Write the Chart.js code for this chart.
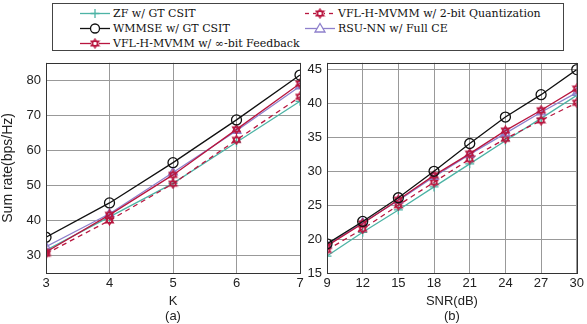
<!DOCTYPE html>
<html>
<head>
<meta charset="utf-8">
<script src="https://cdn.jsdelivr.net/npm/chart.js@4"></script>
<style>
  body { margin: 0; background: #fff; width: 587px; height: 324px; position: relative; overflow: hidden; }
  canvas { position: absolute; }
  #legend { position: absolute; left: 52px; top: 3px; width: 512px; height: 48px; border: 1px solid #444; box-sizing: border-box;
    font-family: "DejaVu Serif", "Liberation Serif", serif; font-size: 11px; color: #111; }
  .item { position: absolute; height: 15px; line-height: 15px; white-space: nowrap; }
  .item canvas { position: absolute; left: 0; top: 0; }
  .item span { position: absolute; left: 33px; top: 0; }
</style>
</head>
<body>
<div id="legend"></div>
<canvas id="chartA" width="308" height="274" style="left:0;top:50px;width:308px;height:274px"></canvas>
<canvas id="chartB" width="287" height="274" style="left:300px;top:50px;width:287px;height:274px"></canvas>
<script>
// Data (a): sum rate vs number of users K
const kValues = [3, 4, 5, 6, 7];
const zfA    = [31.5, 41.0, 50.6, 62.3, 74.0];
const wmmseA = [35.2, 45.0, 56.5, 68.7, 81.5];
const vflInfA = [31.0, 41.6, 53.0, 66.0, 79.1];
const vfl2bitA = [30.5, 40.0, 50.5, 63.0, 75.3];
const rsuA   = [32.5, 41.9, 53.7, 65.6, 78.3];

// Data (b): sum rate vs SNR
const snrValues = [9, 12, 15, 18, 21, 24, 27, 30];
const zfB    = [17.5, 21.0, 24.3, 27.7, 31.1, 34.5, 37.8, 41.2];
const wmmseB = [19.3, 22.6, 26.1, 30.0, 34.1, 38.0, 41.3, 45.0];
const vflInfB = [19.0, 22.3, 25.8, 29.4, 32.6, 36.0, 39.0, 42.2];
const vfl2bitB = [18.4, 21.5, 25.0, 28.4, 31.8, 34.8, 37.5, 40.1];
const rsuB   = [19.1, 22.4, 25.7, 29.2, 32.5, 35.6, 38.7, 41.6];

const yTicksA = [30, 40, 50, 60, 70, 80];
const yTicksB = [15, 20, 25, 30, 35, 40, 45];

const TEAL = '#4db3a5', BLACK = '#111', CRIMSON = '#b8163f', PURPLE = '#8e80cc';

// star of David marker
function hexagram(color, size) {
  const c = document.createElement('canvas');
  c.width = size; c.height = size;
  const g = c.getContext('2d');
  const cx = size / 2, cy = size / 2, r = size / 2 - 1;
  g.strokeStyle = color;
  g.lineWidth = 1.3;
  [-Math.PI / 2, Math.PI / 2].forEach(a0 => {
    g.beginPath();
    for (let i = 0; i < 3; i++) {
      const a = a0 + i * 2 * Math.PI / 3;
      const px = cx + r * Math.cos(a), py = cy + r * Math.sin(a);
      if (i === 0) g.moveTo(px, py); else g.lineTo(px, py);
    }
    g.closePath();
    g.stroke();
  });
  return c;
}
const starMark = hexagram(CRIMSON, 11);

const seriesStyles = [
  { label: 'ZF w/ GT CSIT', color: TEAL, pointStyle: 'cross', radius: 4.5, dash: [] },
  { label: 'WMMSE w/ GT CSIT', color: BLACK, pointStyle: 'circle', radius: 5, dash: [] },
  { label: 'VFL-H-MVMM w/ \u221e-bit Feedback', color: CRIMSON, pointStyle: starMark, radius: 5, dash: [] },
  { label: 'VFL-H-MVMM w/ 2-bit Quantization', color: CRIMSON, pointStyle: starMark, radius: 5, dash: [5, 4] },
  { label: 'RSU-NN w/ Full CE', color: PURPLE, pointStyle: 'triangle', radius: 5, dash: [] }
];

function makeDatasets(xs, lists) {
  return lists.map((ys, i) => {
    const s = seriesStyles[i];
    return {
      label: s.label,
      data: xs.map((x, j) => ({ x: x, y: ys[j] })),
      borderColor: s.color,
      backgroundColor: 'rgba(0,0,0,0)',
      borderWidth: 1.3,
      borderDash: s.dash,
      pointStyle: s.pointStyle,
      pointRadius: s.radius,
      pointBorderColor: s.color,
      pointBackgroundColor: s.pointStyle === 'triangle' ? 'rgba(142,128,204,0.25)' : 'rgba(0,0,0,0)',
      pointBorderWidth: 1.3,
      order: [4, 0, 1, 3, 2][i]
    };
  });
}

const boxPlugin = {
  id: 'box',
  afterDraw(chart) {
    const a = chart.chartArea, g = chart.ctx;
    g.save();
    g.strokeStyle = '#333';
    g.lineWidth = 1;
    g.strokeRect(Math.round(a.left) + 0.5, Math.round(a.top) + 0.5, Math.round(a.right - a.left), Math.round(a.bottom - a.top));
    g.restore();
  }
};

const tickFont = { family: 'Liberation Sans, Arial, sans-serif', size: 13 };

function makeChart(id, xs, lists, opts) {
  return new Chart(document.getElementById(id), {
    type: 'line',
    data: { datasets: makeDatasets(xs, lists) },
    plugins: [boxPlugin],
    options: {
      responsive: false,
      animation: false,
      layout: { padding: { top: opts.padTop, right: opts.padRight, left: 0, bottom: 0 } },
      plugins: { legend: { display: false }, tooltip: { enabled: false } },
      scales: {
        x: {
          type: 'linear',
          min: xs[0], max: xs[xs.length - 1],
          afterBuildTicks: s => { s.ticks = xs.map(v => ({ value: v })); },
          afterFit: s => { s.height = 51; },
          grid: { color: '#999', borderDash: [1, 2], drawTicks: false },
          border: { display: false },
          ticks: { color: '#222', font: tickFont, padding: 3, maxRotation: 0 },
          title: { display: true, text: [opts.xTitle, opts.tag], color: '#222', font: { family: 'Liberation Sans, Arial, sans-serif', size: 13, lineHeight: 1.15 }, padding: { top: -2, bottom: 0 } }
        },
        y: {
          min: opts.yMin, max: opts.yMax,
          afterBuildTicks: s => { s.ticks = opts.yTicks.map(v => ({ value: v })); },
          afterFit: s => { s.width = opts.yWidth; },
          grid: { color: '#999', borderDash: [1, 2], drawTicks: false },
          border: { display: false },
          ticks: { color: '#222', font: tickFont, padding: 5 },
          title: { display: !!opts.yTitle, text: opts.yTitle, color: '#222', font: { family: 'Liberation Sans, Arial, sans-serif', size: 14 }, padding: { top: 0, bottom: 0 } }
        }
      }
    }
  });
}

makeChart('chartA', kValues, [zfA, wmmseA, vflInfA, vfl2bitA, rsuA],
  { padTop: 8, padRight: 8, yWidth: 46, yMin: 25, yMax: 85, yTicks: yTicksA, xTitle: 'K', tag: '(a)', yTitle: 'Sum rate(bps/Hz)' });
makeChart('chartB', snrValues, [zfB, wmmseB, vflInfB, vfl2bitB, rsuB],
  { padTop: 7, padRight: 7, yWidth: 27, yMin: 15, yMax: 46, yTicks: yTicksB, xTitle: 'SNR(dB)', tag: '(b)', yTitle: '' });

// legend
const legend = document.getElementById('legend');
const legendPos = [[27, 2], [27, 17], [27, 32], [252, 2], [252, 17]];
seriesStyles.forEach((s, i) => {
  const item = document.createElement('div');
  item.className = 'item';
  item.style.left = legendPos[i][0] + 'px';
  item.style.top = legendPos[i][1] + 'px';
  const c = document.createElement('canvas');
  c.width = 32; c.height = 15;
  const g = c.getContext('2d');
  g.strokeStyle = s.color;
  g.lineWidth = 1.3;
  g.setLineDash(s.dash.length ? [4, 4] : []);
  g.beginPath(); g.moveTo(0, 7.5); g.lineTo(30, 7.5); g.stroke();
  g.setLineDash([]);
  const cx = 15, cy = 7.5;
  if (s.pointStyle === 'cross') {
    g.beginPath(); g.moveTo(cx, cy - 4.5); g.lineTo(cx, cy + 4.5); g.moveTo(cx - 4.5, cy); g.lineTo(cx + 4.5, cy); g.stroke();
  } else if (s.pointStyle === 'circle') {
    g.fillStyle = '#fff';
    g.beginPath(); g.arc(cx, cy, 4.5, 0, 2 * Math.PI); g.fill(); g.stroke();
  } else if (s.pointStyle === 'triangle') {
    g.fillStyle = '#fff';
    g.beginPath(); g.moveTo(cx, cy - 5); g.lineTo(cx + 5, cy + 3.5); g.lineTo(cx - 5, cy + 3.5); g.closePath(); g.fill(); g.stroke();
  } else {
    g.fillStyle = '#fff';
    g.fillRect(cx - 4, cy - 4, 8, 8);
    g.drawImage(starMark, cx - 5.5, cy - 5.5);
  }
  const sp = document.createElement('span');
  sp.textContent = s.label;
  item.appendChild(c);
  item.appendChild(sp);
  legend.appendChild(item);
});
</script>
</body>
</html>
